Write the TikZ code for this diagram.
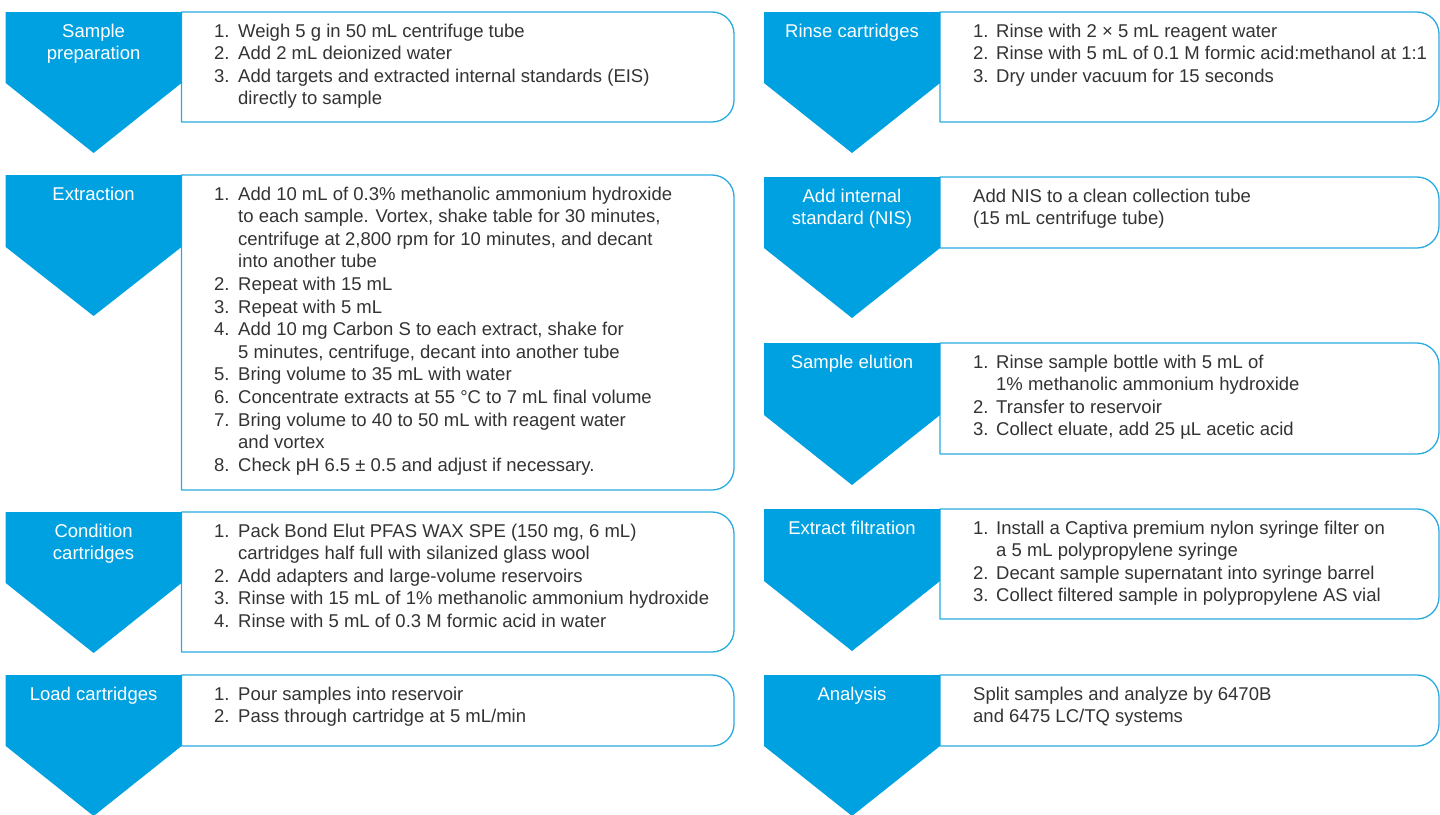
\documentclass[tikz,border=0pt]{standalone}
\usepackage{fontspec}
\setmainfont{Liberation Sans}
\usepackage{tikz}
\definecolor{stepblue}{RGB}{0,161,224}
\definecolor{edgeblue}{RGB}{41,171,226}
\definecolor{bodytext}{RGB}{51,51,51}

\begin{document}
\begin{tikzpicture}[x=1pt, y=-1pt, line join=round,
  blueshape/.style={fill=stepblue},
  stepbox/.style={draw=edgeblue, line width=1.3pt, fill=white},
  steplabel/.style={anchor=base, inner sep=0pt, text=white, font=\fontsize{18.5}{22.6}\selectfont},
  steptext/.style={anchor=base west, inner sep=0pt, text=bodytext, font=\fontsize{18.5}{22.6}\selectfont}]
\useasboundingbox (0,0) rectangle (1440,814);
\clip (0,0) rectangle (1440,814);

% left column
\draw[stepbox] (181.5,12) -- (712,12) arc[start angle=90,end angle=0,radius=22pt] -- (734,100) arc[start angle=0,end angle=-90,radius=22pt] -- (181.5,122) -- cycle;
\fill[blueshape] (5.7,12) -- (181.5,12) -- (181.5,83) -- (93.6,153) -- (5.7,83) -- cycle;
\node[steplabel] (prep-lab) at (93.6,37) {\begin{tabular}[t]{@{}c@{}}Sample\\preparation\end{tabular}};
\node[steptext] (prep-txt) at (214,37) {\begin{tabular}[t]{@{}p{24pt}@{}l@{}}
1. & Weigh 5 g in 50 mL centrifuge tube\\
2. & Add 2 mL deionized water\\
3. & Add targets and extracted internal standards (EIS)\\
   & directly to sample\end{tabular}};

\draw[stepbox] (181.5,175) -- (712,175) arc[start angle=90,end angle=0,radius=22pt] -- (734,468) arc[start angle=0,end angle=-90,radius=22pt] -- (181.5,490) -- cycle;
\fill[blueshape] (5.7,175) -- (181.5,175) -- (181.5,247) -- (93.6,316) -- (5.7,247) -- cycle;
\node[steplabel] (extr-lab) at (93.6,200) {\begin{tabular}[t]{@{}c@{}}Extraction\end{tabular}};
\node[steptext] (extr-txt) at (214,200) {\begin{tabular}[t]{@{}p{24pt}@{}l@{}}
1. & Add 10 mL of 0.3\% methanolic ammonium hydroxide\\
   & to each sample. Vortex, shake table for 30 minutes,\\
   & centrifuge at 2,800 rpm for 10 minutes, and decant\\
   & into another tube\\
2. & Repeat with 15 mL\\
3. & Repeat with 5 mL\\
4. & Add 10 mg Carbon S to each extract, shake for\\
   & 5 minutes, centrifuge, decant into another tube\\
5. & Bring volume to 35 mL with water\\
6. & Concentrate extracts at 55 °C to 7 mL final volume\\
7. & Bring volume to 40 to 50 mL with reagent water\\
   & and vortex\\
8. & Check pH 6.5 ± 0.5 and adjust if necessary.\end{tabular}};

\draw[stepbox] (181.5,512) -- (712,512) arc[start angle=90,end angle=0,radius=22pt] -- (734,630) arc[start angle=0,end angle=-90,radius=22pt] -- (181.5,652) -- cycle;
\fill[blueshape] (5.7,512) -- (181.5,512) -- (181.5,583) -- (93.6,653) -- (5.7,583) -- cycle;
\node[steplabel] (cond-lab) at (93.6,537) {\begin{tabular}[t]{@{}c@{}}Condition\\cartridges\end{tabular}};
\node[steptext] (cond-txt) at (214,537) {\begin{tabular}[t]{@{}p{24pt}@{}l@{}}
1. & Pack Bond Elut PFAS WAX SPE (150 mg, 6 mL)\\
   & cartridges half full with silanized glass wool\\
2. & Add adapters and large-volume reservoirs\\
3. & Rinse with 15 mL of 1\% methanolic ammonium hydroxide\\
4. & Rinse with 5 mL of 0.3 M formic acid in water\end{tabular}};

\draw[stepbox] (181.5,675) -- (712,675) arc[start angle=90,end angle=0,radius=22pt] -- (734,724) arc[start angle=0,end angle=-90,radius=22pt] -- (181.5,746) -- cycle;
\fill[blueshape] (5.7,675) -- (181.5,675) -- (181.5,746) -- (93.6,816) -- (5.7,746) -- cycle;
\node[steplabel] (load-lab) at (93.6,700) {\begin{tabular}[t]{@{}c@{}}Load cartridges\end{tabular}};
\node[steptext] (load-txt) at (214,700) {\begin{tabular}[t]{@{}p{24pt}@{}l@{}}
1. & Pour samples into reservoir\\
2. & Pass through cartridge at 5 mL/min\end{tabular}};

% right column
\draw[stepbox] (940,12) -- (1417,12) arc[start angle=90,end angle=0,radius=22pt] -- (1439,100) arc[start angle=0,end angle=-90,radius=22pt] -- (940,122) -- cycle;
\fill[blueshape] (764,12) -- (940,12) -- (940,83) -- (852,153) -- (764,83) -- cycle;
\node[steplabel] (rins-lab) at (852,37) {\begin{tabular}[t]{@{}c@{}}Rinse cartridges\end{tabular}};
\node[steptext] (rins-txt) at (973,37) {\begin{tabular}[t]{@{}p{23pt}@{}l@{}}
1. & Rinse with 2 × 5 mL reagent water\\
2. & Rinse with 5 mL of 0.1 M formic acid:methanol at 1:1\\
3. & Dry under vacuum for 15 seconds\end{tabular}};

\draw[stepbox] (940,177) -- (1417,177) arc[start angle=90,end angle=0,radius=22pt] -- (1439,226) arc[start angle=0,end angle=-90,radius=22pt] -- (940,248) -- cycle;
\fill[blueshape] (764,177) -- (940,177) -- (940,248) -- (852,318) -- (764,248) -- cycle;
\node[steplabel] (nis-lab) at (852,202) {\begin{tabular}[t]{@{}c@{}}Add internal\\standard (NIS)\end{tabular}};
\node[steptext] (nis-txt) at (973,202) {\begin{tabular}[t]{@{}l@{}}
Add NIS to a clean collection tube\\
(15 mL centrifuge tube)\end{tabular}};

\draw[stepbox] (940,343) -- (1417,343) arc[start angle=90,end angle=0,radius=22pt] -- (1439,432) arc[start angle=0,end angle=-90,radius=22pt] -- (940,454) -- cycle;
\fill[blueshape] (764,343) -- (940,343) -- (940,415) -- (852,485) -- (764,415) -- cycle;
\node[steplabel] (elut-lab) at (852,368) {\begin{tabular}[t]{@{}c@{}}Sample elution\end{tabular}};
\node[steptext] (elut-txt) at (973,368) {\begin{tabular}[t]{@{}p{23pt}@{}l@{}}
1. & Rinse sample bottle with 5 mL of\\
   & 1\% methanolic ammonium hydroxide\\
2. & Transfer to reservoir\\
3. & Collect eluate, add 25 µL acetic acid\end{tabular}};

\draw[stepbox] (940,509) -- (1417,509) arc[start angle=90,end angle=0,radius=22pt] -- (1439,597) arc[start angle=0,end angle=-90,radius=22pt] -- (940,619) -- cycle;
\fill[blueshape] (764,509) -- (940,509) -- (940,581) -- (852,651) -- (764,581) -- cycle;
\node[steplabel] (filt-lab) at (852,534) {\begin{tabular}[t]{@{}c@{}}Extract filtration\end{tabular}};
\node[steptext] (filt-txt) at (973,534) {\begin{tabular}[t]{@{}p{23pt}@{}l@{}}
1. & Install a Captiva premium nylon syringe filter on\\
   & a 5 mL polypropylene syringe\\
2. & Decant sample supernatant into syringe barrel\\
3. & Collect filtered sample in polypropylene AS vial\end{tabular}};

\draw[stepbox] (940,675) -- (1417,675) arc[start angle=90,end angle=0,radius=22pt] -- (1439,724) arc[start angle=0,end angle=-90,radius=22pt] -- (940,746) -- cycle;
\fill[blueshape] (764,675) -- (940,675) -- (940,746) -- (852,816) -- (764,746) -- cycle;
\node[steplabel] (anal-lab) at (852,700) {\begin{tabular}[t]{@{}c@{}}Analysis\end{tabular}};
\node[steptext] (anal-txt) at (973,700) {\begin{tabular}[t]{@{}l@{}}
Split samples and analyze by 6470B\\
and 6475 LC/TQ systems\end{tabular}};
\end{tikzpicture}
\end{document}
